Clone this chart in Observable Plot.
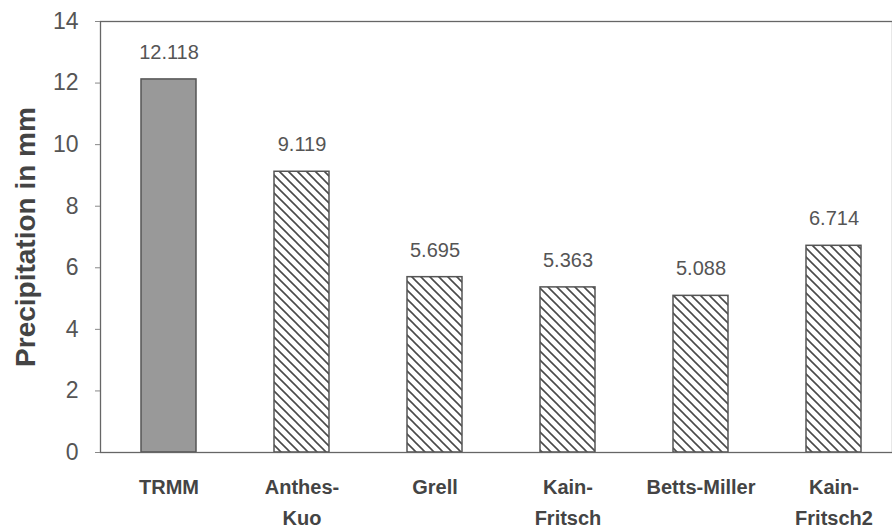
<!DOCTYPE html>
<html>
<head>
<meta charset="utf-8">
<script src="https://cdn.jsdelivr.net/npm/d3@7"></script>
<script src="https://cdn.jsdelivr.net/npm/@observablehq/plot@0.6"></script>
<style>
  html, body { margin: 0; padding: 0; background: #fff; }
  #chart { width: 892px; height: 531px; }
</style>
</head>
<body>
<div id="chart"></div>
<script>
const categories = ["TRMM", "Anthes-Kuo", "Grell", "Kain-Fritsch", "Betts-Miller", "Kain-Fritsch2"];
const tickLabels = ["TRMM", "Anthes-\nKuo", "Grell", "Kain-\nFritsch", "Betts-Miller", "Kain-\nFritsch2"];
const values = [12.118, 9.119, 5.695, 5.363, 5.088, 6.714];
const valueLabels = ["12.118", "9.119", "5.695", "5.363", "5.088", "6.714"];
const yTicks = [0, 2, 4, 6, 8, 10, 12, 14];

const data = categories.map((c, i) => ({cat: c, v: values[i], label: valueLabels[i], observed: i === 0}));

const chart = Plot.plot({
  width: 892,
  height: 531,
  marginLeft: 100,
  marginTop: 21,
  marginBottom: 79,
  marginRight: 0,
  style: {fontFamily: "'Liberation Sans', Arial, sans-serif", background: "#fff"},
  x: {domain: categories, range: [100, 902], paddingInner: 0.59, paddingOuter: 0.295},
  y: {domain: [0, 14], range: [452, 21]},
  marks: [
    Plot.barY(data, {
      x: "cat", y: "v",
      fill: d => d.observed ? "#999999" : "url(#hatch)",
      stroke: "#555", strokeWidth: 1.5
    }),
    Plot.text(data, {
      x: "cat", y: "v", text: "label", dy: -27,
      fontSize: 20, fill: "#555"
    }),
    Plot.frame({stroke: "#666", strokeWidth: 1.3}),
    Plot.axisY({
      ticks: yTicks, tickSize: 5, tickPadding: 17, fontSize: 23, color: "#555",
      stroke: "#888",
      label: "Precipitation in mm", labelAnchor: "center", labelArrow: "none", labelOffset: 85
    }),
    Plot.axisX({
      tickSize: 0, tickPadding: 19, fontSize: 20, fontWeight: "bold", color: "#444",
      lineHeight: 1.55,
      tickFormat: d => tickLabels[categories.indexOf(d)],
      label: null
    })
  ]
});

// hatch pattern definition
const ns = "http://www.w3.org/2000/svg";
const defs = document.createElementNS(ns, "defs");
const pat = document.createElementNS(ns, "pattern");
pat.setAttribute("id", "hatch");
pat.setAttribute("patternUnits", "userSpaceOnUse");
pat.setAttribute("width", "9");
pat.setAttribute("height", "9");
const bg = document.createElementNS(ns, "rect");
bg.setAttribute("width", "9"); bg.setAttribute("height", "9"); bg.setAttribute("fill", "#fff");
const p = document.createElementNS(ns, "path");
p.setAttribute("d", "M0,0L9,9M-1,8L1,10M8,-1L10,1");
p.setAttribute("stroke", "#4a4a4a");
p.setAttribute("stroke-width", "1.6");
pat.appendChild(bg); pat.appendChild(p);
defs.appendChild(pat);
chart.insertBefore(defs, chart.firstChild);

// style the y-axis title
chart.querySelectorAll("text").forEach(t => {
  if (t.textContent === "Precipitation in mm") {
    t.setAttribute("font-size", "28");
    t.setAttribute("font-weight", "bold");
    t.setAttribute("fill", "#444");
  }
});

document.getElementById("chart").appendChild(chart);
</script>
</body>
</html>
